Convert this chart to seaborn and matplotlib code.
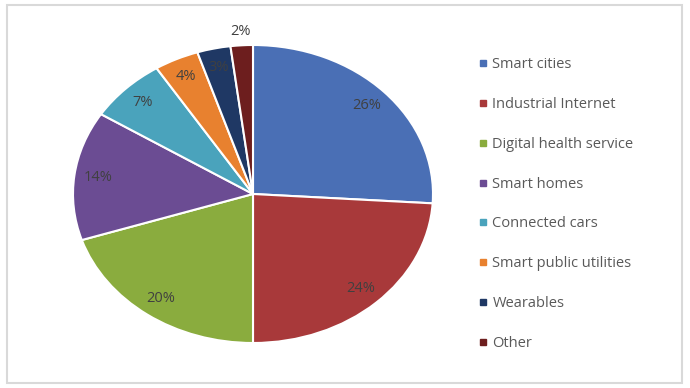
import numpy as np
import matplotlib
matplotlib.use("Agg")
import matplotlib.pyplot as plt
from matplotlib.lines import Line2D
from matplotlib.patches import Rectangle
import seaborn as sns

# Data
categories = ["Smart cities", "Industrial Internet", "Digital health service",
              "Smart homes", "Connected cars", "Smart public utilities",
              "Wearables", "Other"]
shares = [26, 24, 20, 14, 7, 4, 3, 2]
colors = ["#4A6FB5", "#A8393A", "#8AAC3E", "#6B4C93",
          "#4AA3BC", "#E8812F", "#1F3864", "#6D1E1E"]

sns.set_theme(style="white")
plt.rcParams["font.family"] = ["Open Sans", "DejaVu Sans"]

fig = plt.figure(figsize=(6.9, 3.88), dpi=100)
ax = fig.add_axes([73 / 690, 45 / 388, 360 / 690, 298 / 388])

wedges, texts, autotexts = ax.pie(
    shares, colors=colors, startangle=90, counterclock=False,
    autopct="%d%%", pctdistance=0.87,
    wedgeprops=dict(edgecolor="white", linewidth=1.5),
    textprops=dict(color="#404040", fontsize=10.5),
)
ax.set_aspect("auto")
ax.set_xlim(-1, 1)
ax.set_ylim(-1, 1)

# last small slice label sits outside
w = wedges[-1]
mid = np.deg2rad((w.theta1 + w.theta2) / 2)
autotexts[-1].set_position((1.09 * np.cos(mid), 1.09 * np.sin(mid)))

# legend
handles = [Line2D([0], [0], marker="s", linestyle="", markersize=5,
                  markerfacecolor=c, markeredgecolor=c) for c in colors]
fig.legend(handles, categories, loc="center left",
           bbox_to_anchor=(470 / 690, 1 - 204 / 388), frameon=False,
           fontsize=10.5, labelcolor="#595959", handlelength=0.75,
           handletextpad=0.28, labelspacing=1.7, borderpad=0)

# chart border
fig.patches.append(Rectangle((7 / 690, 5 / 388), 675 / 690, 378 / 388,
                             transform=fig.transFigure, fill=False,
                             edgecolor="#D9D9D9", linewidth=1.5))

fig.savefig("out.png", dpi=100)
